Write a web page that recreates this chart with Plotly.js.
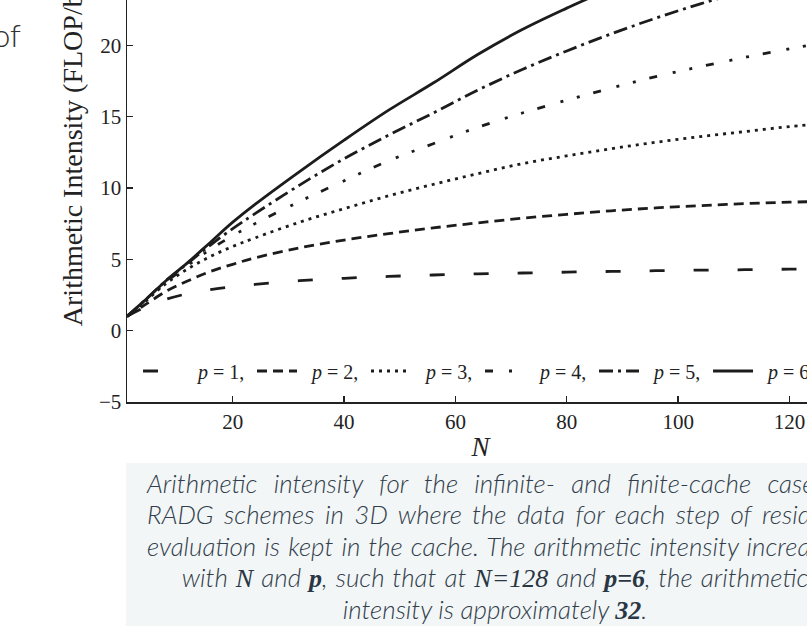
<!DOCTYPE html>
<html><head><meta charset="utf-8">
<script src="https://cdn.plot.ly/plotly-3.0.1.min.js"></script>
<style>
html,body{margin:0;padding:0;width:807px;height:626px;overflow:hidden;background:#fff;position:relative;}
#chart{position:absolute;left:0;top:-200px;width:900px;height:700px;}
#side{position:absolute;right:786px;top:20px;font-family:Lato,sans-serif;font-weight:300;font-size:32px;line-height:30px;color:#333;white-space:nowrap;}
#cap{position:absolute;left:126px;top:463px;width:738px;height:190px;background:#f2f6f7;box-sizing:border-box;padding:5px 21px 0 21px;font-family:Lato,sans-serif;font-style:italic;font-weight:300;font-size:26px;line-height:31.3px;color:#323e4b;}
#cap .j{text-align:justify;text-align-last:justify;white-space:nowrap;}
#cap .wide{margin-right:-19px;}
#cap .c{text-align:center;white-space:nowrap;}
#cap .ws{word-spacing:1.5px;}
#cap .m{font-family:"Liberation Serif","Times New Roman",serif;font-style:italic;font-size:26px;color:#2a3644;word-spacing:0;}
#cap .b{font-weight:bold;}
</style>
</head><body>
<div id="side">of</div>
<div id="chart"></div>
<div id="cap">
<div class="j wide">Arithmetic intensity for the infinite- and finite-cache cases of</div>
<div class="j">RADG schemes in 3D where the data for each step of residual</div>
<div class="j">evaluation is kept in the cache. The arithmetic intensity increases</div>
<div class="c ws">with <span class="m">N</span> and <span class="m b">p</span>, such that at <span class="m">N=128</span> and <span class="m b">p=6</span>, the arithmetic</div>
<div class="c">intensity is approximately <span class="m b">32</span>.</div>
</div>
<script>
const N  = [1, 4, 8, 12, 16, 20, 24, 32, 40, 48, 56, 64, 72, 80, 88, 96, 104, 112, 120, 128];
const p1 = [1.0, 1.6, 2.2, 2.6, 2.88, 3.08, 3.24, 3.5, 3.67, 3.8, 3.9, 3.98, 4.04, 4.1, 4.15, 4.2, 4.24, 4.27, 4.31, 4.34];
const p2 = [1.0, 1.75, 2.75, 3.5, 4.15, 4.65, 5.1, 5.8, 6.35, 6.8, 7.2, 7.55, 7.88, 8.15, 8.4, 8.6, 8.76, 8.9, 9.0, 9.08];
const p3 = [1.0, 1.95, 3.3, 4.35, 5.2, 5.9, 6.5, 7.6, 8.55, 9.45, 10.25, 11.0, 11.7, 12.25, 12.75, 13.2, 13.6, 13.95, 14.3, 14.55];
const p4 = [1.0, 2.0, 3.4, 4.6, 5.7, 6.65, 7.5, 9.05, 10.5, 11.9, 13.1, 14.25, 15.25, 16.15, 17.0, 17.8, 18.5, 19.15, 19.75, 20.3];
const p5 = [1.0, 2.05, 3.5, 4.75, 6.0, 7.15, 8.2, 10.2, 12.05, 13.7, 15.25, 16.85, 18.3, 19.6, 20.8, 21.9, 22.9, 23.8, 24.65, 25.4];
const p6 = [1.0, 2.05, 3.5, 4.8, 6.2, 7.6, 8.85, 11.15, 13.35, 15.45, 17.35, 19.35, 21.1, 22.6, 24.0, 25.4, 26.7, 28.0, 29.2, 30.3];
const series = [p1, p2, p3, p4, p5, p6];
const labels = ['p = 1,', 'p = 2,', 'p = 3,', 'p = 4,', 'p = 5,', 'p = 6'];
const dashes = ['15px,29px', '10px,6px', '3px,5px', '8px,16px,3px,14px,3px,14px', '14px,5px,3px,5px', 'solid'];
const xTicks = [20, 40, 60, 80, 100, 120];
const yTicks = [-5, 0, 5, 10, 15, 20, 25, 30];

const traces = series.map((ys, i) => ({
  x: N, y: ys, type: 'scatter', mode: 'lines',
  name: '\u00a0\u00a0' + labels[i].replace('p', '<i>p</i>'),
  line: {color: '#1c1c1c', width: 2.8, dash: dashes[i], shape: 'spline', smoothing: 1}
}));

const axisCommon = {
  showline: true, linecolor: '#222', linewidth: 1.5, mirror: 'ticks',
  ticks: 'inside', ticklen: 6, tickwidth: 1.3, tickcolor: '#222',
  showgrid: false, zeroline: false, automargin: false
};

const layout = {
  width: 900, height: 700,
  margin: {l: 127, r: 66, t: 74, b: 98, pad: 0},
  paper_bgcolor: 'rgba(0,0,0,0)', plot_bgcolor: 'rgba(0,0,0,0)',
  font: {family: '"Liberation Serif", "Times New Roman", serif', size: 21, color: '#222'},
  showlegend: true,
  legend: {orientation: 'h', x: 0.0156, xanchor: 'left', y: 0.0587, yanchor: 'middle',
           bgcolor: 'rgba(0,0,0,0)', font: {size: 20}, itemwidth: 40,
           entrywidth: 59, entrywidthmode: 'pixels', traceorder: 'normal'},
  xaxis: Object.assign({}, axisCommon, {range: [1, 128], tickvals: xTicks,
           title: {text: '<i>N</i>', font: {size: 27}, standoff: 4}}),
  yaxis: Object.assign({}, axisCommon, {range: [-5, 32], tickvals: yTicks,
           title: {text: 'Arithmetic Intensity (FLOP/byte)', font: {size: 28}, standoff: 8}})
};

Plotly.newPlot('chart', traces, layout, {staticPlot: true, displayModeBar: false});
</script>
</body></html>
